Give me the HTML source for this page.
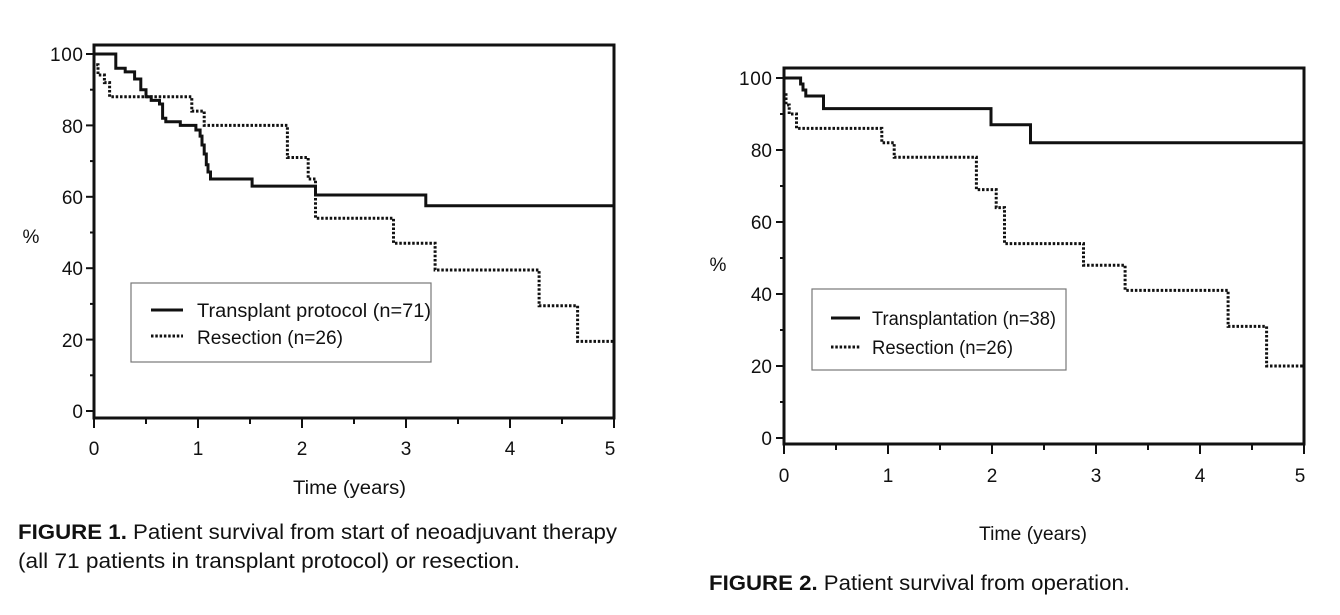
<!DOCTYPE html>
<html><head><meta charset="utf-8"><style>
html,body{margin:0;padding:0;background:#fff;}
svg{display:block;}
text{font-family:"Liberation Sans",sans-serif;fill:#111;}
</style></head><body>
<svg width="1340" height="615" viewBox="0 0 1340 615" xmlns="http://www.w3.org/2000/svg">
<g fill="none" stroke="#111">
<rect x="94" y="45" width="520" height="373" stroke-width="3"/>
<g stroke-width="2">
<line x1="86" y1="411" x2="94" y2="411"/><line x1="90" y1="375.3" x2="94" y2="375.3"/>
<line x1="86" y1="339.6" x2="94" y2="339.6"/><line x1="90" y1="303.9" x2="94" y2="303.9"/>
<line x1="86" y1="268.2" x2="94" y2="268.2"/><line x1="90" y1="232.5" x2="94" y2="232.5"/>
<line x1="86" y1="196.8" x2="94" y2="196.8"/><line x1="90" y1="161.1" x2="94" y2="161.1"/>
<line x1="86" y1="125.4" x2="94" y2="125.4"/><line x1="90" y1="89.7" x2="94" y2="89.7"/>
<line x1="86" y1="54" x2="94" y2="54"/>
<line x1="94" y1="418" x2="94" y2="428"/><line x1="146" y1="418" x2="146" y2="424"/>
<line x1="198" y1="418" x2="198" y2="428"/><line x1="250" y1="418" x2="250" y2="424"/>
<line x1="302" y1="418" x2="302" y2="428"/><line x1="354" y1="418" x2="354" y2="424"/>
<line x1="406" y1="418" x2="406" y2="428"/><line x1="458" y1="418" x2="458" y2="424"/>
<line x1="510" y1="418" x2="510" y2="428"/><line x1="562" y1="418" x2="562" y2="424"/>
<line x1="614" y1="418" x2="614" y2="428"/>
</g>
<polyline stroke-width="3" points="94,54 115.8,54 115.8,68.3 125.2,68.3 125.2,71.9 134.6,71.9 134.6,79 140.8,79 140.8,89.7 146,89.7 146,96.8 151.2,96.8 151.2,100.4 159.5,100.4 159.5,104 162.6,104 162.6,118.3 165.8,118.3 165.8,121.8 180.3,121.8 180.3,125.4 195.9,125.4 195.9,130 200.1,130 200.1,136.1 202,136.1 202,145 204.2,145 204.2,154 206.3,154 206.3,164.7 208,164.7 208,172 210.5,172 210.5,179 252.1,179 252.1,186.1 315.5,186.1 315.5,195 425.8,195 425.8,205.7 614,205.7"/>
<polyline stroke-width="3" stroke-dasharray="2.5,1.8" points="94,54 94,64.7 98,64.7 98,75 104.4,75 104.4,82.6 109.6,82.6 109.6,96.8 191.8,96.8 191.8,111.1 204.2,111.1 204.2,125.4 287.4,125.4 287.4,157.5 308.2,157.5 308.2,179 315.5,179 315.5,218.2 393.5,218.2 393.5,243.2 435.1,243.2 435.1,270 539.1,270 539.1,305.7 577.6,305.7 577.6,341.4 614,341.4"/>
<rect x="131" y="283" width="300" height="79" stroke="#777" stroke-width="1.2"/>
<line x1="151" y1="310" x2="183" y2="310" stroke-width="3"/>
<line x1="151" y1="336" x2="183" y2="336" stroke-width="3" stroke-dasharray="2.5,1.8"/>

<rect x="784" y="68" width="520" height="376" stroke-width="3"/>
<g stroke-width="2">
<line x1="776" y1="438" x2="784" y2="438"/><line x1="780" y1="402" x2="784" y2="402"/>
<line x1="776" y1="366" x2="784" y2="366"/><line x1="780" y1="330" x2="784" y2="330"/>
<line x1="776" y1="294" x2="784" y2="294"/><line x1="780" y1="258" x2="784" y2="258"/>
<line x1="776" y1="222" x2="784" y2="222"/><line x1="780" y1="186" x2="784" y2="186"/>
<line x1="776" y1="150" x2="784" y2="150"/><line x1="780" y1="114" x2="784" y2="114"/>
<line x1="776" y1="78" x2="784" y2="78"/>
<line x1="784" y1="444" x2="784" y2="454"/><line x1="836" y1="444" x2="836" y2="450"/>
<line x1="888" y1="444" x2="888" y2="454"/><line x1="940" y1="444" x2="940" y2="450"/>
<line x1="992" y1="444" x2="992" y2="454"/><line x1="1044" y1="444" x2="1044" y2="450"/>
<line x1="1096" y1="444" x2="1096" y2="454"/><line x1="1148" y1="444" x2="1148" y2="450"/>
<line x1="1200" y1="444" x2="1200" y2="454"/><line x1="1252" y1="444" x2="1252" y2="450"/>
<line x1="1304" y1="444" x2="1304" y2="454"/>
</g>
<polyline stroke-width="3" points="784,78 800.6,78 800.6,84 803,84 803,90 805.8,90 805.8,96 823.5,96 823.5,108.6 991,108.6 991,124.8 1030.5,124.8 1030.5,142.8 1304,142.8"/>
<polyline stroke-width="3" stroke-dasharray="2.5,1.8" points="784,78 784,92.4 786,92.4 786,105 789.2,105 789.2,114 796.5,114 796.5,128.4 881.8,128.4 881.8,142.8 894.2,142.8 894.2,157.2 976.4,157.2 976.4,189.6 996.2,189.6 996.2,207.6 1004.5,207.6 1004.5,243.6 1083.5,243.6 1083.5,265.2 1125.1,265.2 1125.1,290.4 1228.1,290.4 1228.1,326.4 1266.6,326.4 1266.6,366 1304,366"/>
<rect x="812" y="289" width="254" height="81" stroke="#777" stroke-width="1.2"/>
<line x1="831" y1="318" x2="860" y2="318" stroke-width="3"/>
<line x1="831" y1="347" x2="860" y2="347" stroke-width="3" stroke-dasharray="2.5,1.8"/>
</g>

<g font-size="19" text-anchor="end">
<text x="83" y="418">0</text><text x="83" y="347">20</text><text x="83" y="275">40</text>
<text x="83" y="204">60</text><text x="83" y="133">80</text><text x="83" y="61" textLength="33">100</text>
<text x="772" y="445">0</text><text x="772" y="373">20</text><text x="772" y="301">40</text>
<text x="772" y="229">60</text><text x="772" y="157">80</text><text x="772" y="85" textLength="33">100</text>
</g>
<g font-size="19" text-anchor="middle">
<text x="94" y="455">0</text><text x="198" y="455">1</text><text x="302" y="455">2</text>
<text x="406" y="455">3</text><text x="510" y="455">4</text><text x="610" y="455">5</text>
<text x="784" y="482">0</text><text x="888" y="482">1</text><text x="992" y="482">2</text>
<text x="1096" y="482">3</text><text x="1200" y="482">4</text><text x="1300" y="482">5</text>
<text x="31" y="243">%</text>
<text x="718" y="271">%</text>
</g>
<g font-size="19">
<text x="293" y="494" textLength="113" lengthAdjust="spacingAndGlyphs">Time (years)</text>
<text x="979" y="540" textLength="108" lengthAdjust="spacingAndGlyphs">Time (years)</text>
<text x="197" y="317" textLength="234" lengthAdjust="spacingAndGlyphs">Transplant protocol (n=71)</text>
<text x="197" y="344" textLength="146" lengthAdjust="spacingAndGlyphs">Resection (n=26)</text>
<text x="872" y="325" textLength="184" lengthAdjust="spacingAndGlyphs">Transplantation (n=38)</text>
<text x="872" y="354" textLength="141" lengthAdjust="spacingAndGlyphs">Resection (n=26)</text>
</g>
<g font-size="21" fill="#222">
<text x="18" y="539" textLength="599" lengthAdjust="spacingAndGlyphs"><tspan font-weight="bold">FIGURE 1.</tspan> Patient survival from start of neoadjuvant therapy</text>
<text x="18" y="568" textLength="502" lengthAdjust="spacingAndGlyphs">(all 71 patients in transplant protocol) or resection.</text>
<text x="709" y="590" textLength="421" lengthAdjust="spacingAndGlyphs"><tspan font-weight="bold">FIGURE 2.</tspan> Patient survival from operation.</text>
</g>
</svg>
</body></html>
